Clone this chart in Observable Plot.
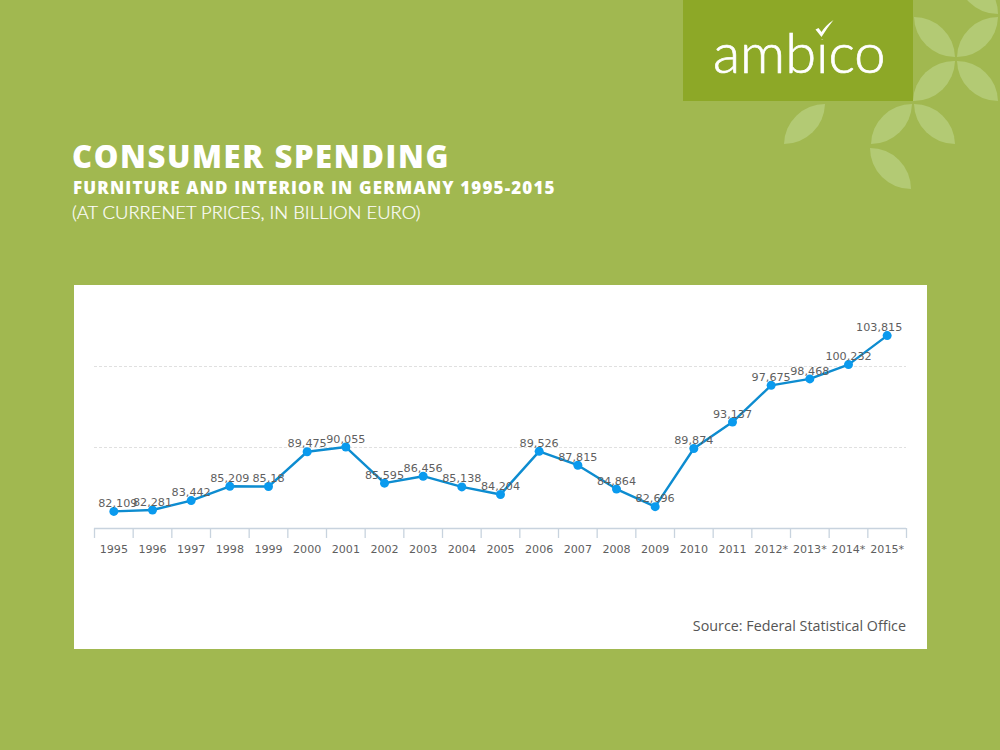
<!DOCTYPE html>
<html><head><meta charset="utf-8">
<script src="https://cdn.jsdelivr.net/npm/d3@7"></script>
<script src="https://cdn.jsdelivr.net/npm/@observablehq/plot@0.6"></script>
<style>
html,body{margin:0;padding:0;background:#a1b850;}
#page{position:relative;width:1000px;height:750px;overflow:hidden;background:#a1b850;color:#fff;font-family:Lato,sans-serif;}
#deco{position:absolute;left:0;top:0}
#logobox{position:absolute;left:683px;top:0;width:230px;height:101px;background:#8da827;}
#logo{position:absolute;left:30px;top:22px;font:300 56px Lato,sans-serif;line-height:60px;color:#fff;white-space:nowrap;-webkit-text-stroke:.7px #fff}
.t{position:absolute;white-space:nowrap;color:#fff}
#t1{left:72px;top:137px;font:900 31px/38px "Open Sans",sans-serif;letter-spacing:1.6px}
#t2{left:73px;top:176px;font:800 17px/24px "Open Sans",sans-serif;letter-spacing:1.15px}
#t3{left:72px;top:200px;font:300 18.4px/24px Lato,sans-serif;-webkit-text-stroke:.2px #fff}
#card{position:absolute;left:74px;top:285px;width:853px;height:364px;background:#fff}
#card svg{position:absolute;left:0;top:0;background:transparent}
#src{position:absolute;right:21px;top:332px;font:14.3px/18px "Open Sans",sans-serif;color:#555}
</style></head><body>
<div id="page">
<svg id="deco" width="1000" height="200" fill="#b3ca74">
<path d="M914 17A41 41 0 0 1 955 57A41 41 0 0 1 914 17Z"/>
<path d="M957 57A41 41 0 0 1 998 17A41 41 0 0 1 957 57Z"/>
<path d="M913 101A41 41 0 0 1 955 61A41 41 0 0 1 913 101Z"/>
<path d="M957 61A41 41 0 0 1 998 101A41 41 0 0 1 957 61Z"/>
<path d="M784 144A41 41 0 0 1 825 104A41 41 0 0 1 784 144Z"/>
<path d="M871 144A41 41 0 0 1 912 104A41 41 0 0 1 871 144Z"/>
<path d="M914 104A41 41 0 0 1 955 144A41 41 0 0 1 914 104Z"/>
<path d="M870 148A41 41 0 0 1 911 189A41 41 0 0 1 870 148Z"/>
<path d="M957 -27A41 41 0 0 1 998 14A41 41 0 0 1 957 -27Z"/>
</svg>
<div id="logobox"><div id="logo">ambico</div>
<svg width="230" height="101" style="position:absolute;left:0;top:0"><rect x="130" y="19" width="22" height="20" fill="#8da827"/><path d="M132.5 29.5L135.5 28L138.5 32Q143 25 150.5 20Q144 28 138.5 37Z" fill="#fff"/></svg>
</div>
<div class="t" id="t1">CONSUMER SPENDING</div>
<div class="t" id="t2">FURNITURE AND INTERIOR IN GERMANY 1995-2015</div>
<div class="t" id="t3">(AT CURRENET PRICES, IN BILLION EURO)</div>
<div id="card"><div id="src">Source: Federal Statistical Office</div></div>
</div>
<script>
const years = d3.range(1995, 2016);
const tickLabels = ["1995","1996","1997","1998","1999","2000","2001","2002","2003","2004","2005","2006","2007","2008","2009","2010","2011","2012*","2013*","2014*","2015*"];
const values = [82.109,82.281,83.442,85.209,85.18,89.475,90.055,85.595,86.456,85.138,84.204,89.526,87.815,84.864,82.696,89.874,93.137,97.675,98.468,100.232,103.815];
const gridValues = [90,100];
const boundaries = d3.range(1994.5, 2016, 1);
const table = years.map((year,i)=>({year,value:values[i],label:String(values[i]).replace(".",",")}));
const font = "'DejaVu Sans',sans-serif";
const labelStyle = {x:"year",y:"value",text:"label",dy:-8,fontSize:11.2,fill:"#5f5f5f"};
const chart = Plot.plot({
  width:853,height:364,marginLeft:20,marginRight:21,marginTop:0,marginBottom:121,
  style:{background:"transparent",fontFamily:font,overflow:"visible"},
  x:{type:"linear",domain:[1994.5,2015.5],axis:null},
  y:{domain:[80,110],axis:null},
  marks:[
    Plot.ruleY(gridValues,{stroke:"#e0e0e0",strokeWidth:1,strokeDasharray:"3,2"}),
    Plot.ruleY([80],{stroke:"#c8d3de",strokeWidth:1.3}),
    Plot.ruleX(boundaries,{y1:80,y2:78.77,stroke:"#c8d3de",strokeWidth:1.3}),
    Plot.axisX({ticks:years,tickSize:0,tickPadding:17,tickFormat:d=>tickLabels[d-1995],fontSize:11.1,fill:"#5f5f5f",label:null}),
    Plot.line(table,{x:"year",y:"value",stroke:"#0d8cd0",strokeWidth:2.4,curve:"linear"}),
    Plot.dot(table,{x:"year",y:"value",r:4.5,fill:"#0a9aee",stroke:null}),
    Plot.text(table.slice(1,20),labelStyle),
    Plot.text(table.slice(0,1),{...labelStyle,dx:4}),
    Plot.text(table.slice(20),{...labelStyle,dx:-8})
  ]
});
document.getElementById("card").prepend(chart);
</script>
</body></html>
